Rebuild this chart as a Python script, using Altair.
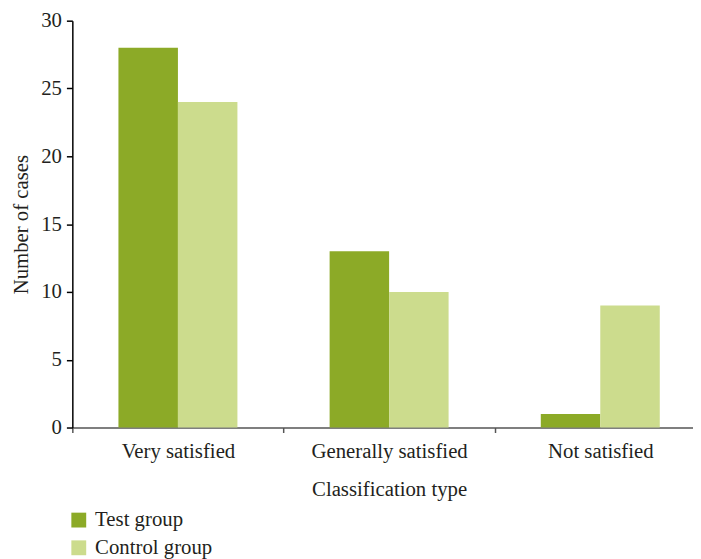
import altair as alt
import pandas as pd

categories = ["Very satisfied", "Generally satisfied", "Not satisfied"]
groups = ["Test group", "Control group"]
test_values = [28, 13, 1]
control_values = [24, 10, 9]
colors = ["#8CAA27", "#CCDC8D"]
y_ticks = [0, 5, 10, 15, 20, 25, 30]

rows = []
for c, t, k in zip(categories, test_values, control_values):
    rows.append({"Category": c, "Group": groups[0], "Cases": t})
    rows.append({"Category": c, "Group": groups[1], "Cases": k})
df = pd.DataFrame(rows)

FONT = "Liberation Serif"
TXT = "#231F20"
FS = 21

chart = alt.Chart(df).mark_bar().encode(
    x=alt.X("Category:N", sort=categories,
            scale=alt.Scale(paddingInner=0, paddingOuter=0),
            axis=alt.Axis(title="Classification type", labelAngle=0,
                          tickBand="extent", tickSize=5, labelPadding=8,
                          domainColor="#555555", tickColor="#555555",
                          titleY=63, titleBaseline="middle")),
    xOffset=alt.XOffset("Group:N", sort=groups,
                        scale=alt.Scale(paddingInner=0, paddingOuter=0.775)),
    y=alt.Y("Cases:Q", scale=alt.Scale(domain=[0, 30], nice=False),
            axis=alt.Axis(title="Number of cases", values=y_ticks, tickSize=6,
                          labelPadding=5, grid=False,
                          domainColor="#000000", tickColor="#000000",
                          titleX=-51, titleY=205.5, titleBaseline="middle",
                          titleAlign="center", titleAngle=270)),
    color=alt.Color("Group:N", sort=groups,
                    scale=alt.Scale(domain=groups, range=colors),
                    legend=alt.Legend(title=None, orient="none", legendX=-4, legendY=494,
                                      symbolType="square", symbolSize=225,
                                      symbolStrokeWidth=0, labelOffset=6,
                                      rowPadding=6, labelFontSize=FS,
                                      labelFont=FONT, labelColor=TXT)),
).properties(
    width=640, height=411,
    autosize=alt.AutoSizeParams(type="none"),
    padding={"left": 65, "top": 10, "right": -13, "bottom": 130},
).configure_view(stroke=None).configure_axis(
    labelFont=FONT, titleFont=FONT, labelFontSize=FS, titleFontSize=FS,
    labelColor=TXT, titleColor=TXT, titleFontWeight="normal", domainWidth=1.5,
    tickWidth=1.5
)

chart.save("out.html", embed_options={"renderer": "svg", "actions": False})
